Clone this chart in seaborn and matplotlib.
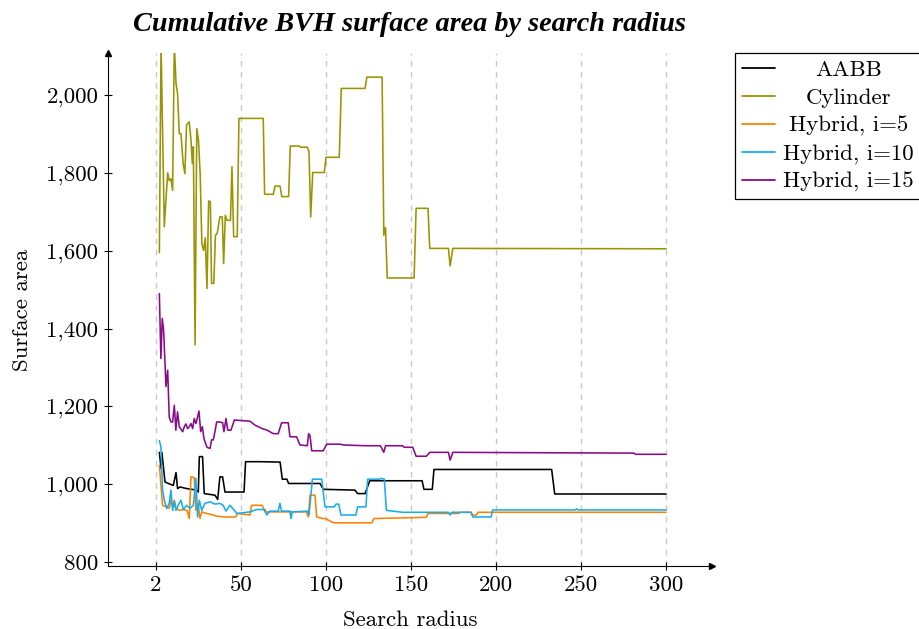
import numpy as np
import pandas as pd
import matplotlib
matplotlib.use("Agg")
import matplotlib.pyplot as plt
import seaborn as sns
from matplotlib.transforms import Affine2D

# Series names and line colours
series_names = ["AABB", "Cylinder", "Hybrid, i=5", "Hybrid, i=10", "Hybrid, i=15"]
series_colors = ["#000000", "#999400", "#ff8000", "#19aeea", "#8a0a8a"]

# (search radius, cumulative surface area) samples per bounding-volume type
aabb = [(2, 1082), (3, 1040), (3.5, 1082), (5.3, 1006), (7.3, 1002), (10.2, 997),
        (11.8, 1030), (12.7, 989), (14.1, 993), (18, 989), (21, 987), (23.9, 985),
        (24.9, 980), (25.5, 1071), (27.4, 1071), (28.4, 976), (34.7, 972), (36.3, 961),
        (37.6, 1019), (39.2, 1019), (40.6, 980), (51.8, 980), (52.7, 1058), (61.2, 1058),
        (73, 1057), (74.3, 1013), (77, 1013), (78, 1002), (96.5, 1002), (98.4, 987),
        (117, 985), (118.6, 976), (123, 976), (125.7, 1009), (156.5, 1009), (157.6, 987),
        (162.5, 987), (163.5, 1038), (232.7, 1038), (234.5, 975), (300, 975)]

cylinder = [(2, 1595), (3, 2130), (4.9, 1662), (6.9, 1800), (7.8, 1780), (8.8, 1785),
            (9.8, 1755), (10.8, 2130), (11.8, 2030), (12.7, 2004), (13.7, 1901), (14.7, 1901),
            (16, 1824), (17, 1798), (18, 1923), (19.6, 1931), (20.6, 1884), (21.4, 1824),
            (22, 1867), (23, 1358), (24, 1914), (25, 1884), (26, 1798), (27, 1618),
            (28, 1601), (29, 1633), (30, 1503), (31, 1728), (32, 1726), (32.7, 1516),
            (34, 1516), (35, 1640), (36, 1644), (37.6, 1687), (39, 1687), (39.8, 1567),
            (40.8, 1691), (41.8, 1678), (43.8, 1678), (44.7, 1816), (45.7, 1636), (47.8, 1636),
            (48.8, 1940), (63.1, 1940), (63.9, 1745), (69, 1745), (70, 1766), (73, 1766),
            (74, 1739), (78, 1739), (79, 1869), (84.3, 1869), (85, 1866), (89, 1866),
            (90, 1855), (91, 1687), (92.2, 1801), (99, 1801), (100, 1840), (107.8, 1840),
            (109, 2017), (123, 2017), (124, 2046), (133, 2046), (134, 1640), (135, 1660),
            (136, 1530), (151.8, 1530), (153, 1709), (160, 1709), (161, 1606), (172, 1606),
            (173, 1561), (174.6, 1606), (300, 1605)]

hybrid_5 = [(2, 1049), (3.9, 946), (5.9, 942), (7.8, 938), (8.8, 959), (9.8, 942),
            (10.8, 959), (11.8, 938), (13.7, 933), (16.1, 935), (18.4, 932), (19.6, 912),
            (20.6, 1019), (22.5, 1017), (23.5, 933), (24.7, 950), (25.9, 912), (26.9, 929),
            (29.8, 925), (33.7, 921), (35.7, 918), (40.6, 916), (47, 916), (47.8, 925),
            (55.3, 921), (56.3, 946), (62.5, 946), (64, 929), (88.5, 929), (89.6, 916),
            (90.6, 972), (93.5, 972), (94.5, 916), (98, 912), (99.6, 912), (104.5, 901),
            (127, 901), (128.2, 912), (159, 915), (160, 925), (178, 925), (179, 928),
            (185.3, 928), (186.3, 921), (188.5, 921), (189.3, 928), (300, 928)]

hybrid_10 = [(2, 1112), (2.9, 1097), (3.9, 985), (4.9, 959), (6.3, 938), (7.8, 951),
             (8.8, 985), (9.8, 933), (10.8, 955), (11.8, 933), (13.1, 946), (14.7, 959),
             (16.1, 935), (18, 946), (20, 938), (22, 946), (23.5, 1015), (24.5, 916),
             (25.5, 959), (26.9, 933), (28.8, 951), (31.8, 955), (34.7, 949), (37.6, 951),
             (39.5, 946), (41.2, 931), (43.5, 946), (46.5, 931), (47.5, 925), (55.3, 929),
             (59.2, 935), (64.1, 935), (65.1, 921), (67, 931), (71.9, 931), (72.9, 951),
             (73.9, 931), (78.8, 931), (79.4, 912), (80.2, 929), (89, 931), (90, 921),
             (92, 1013), (97.5, 1013), (99.4, 942), (104.9, 942), (105.9, 949), (107.5, 949),
             (108.8, 921), (117.6, 921), (118.6, 942), (123.5, 942), (124.5, 1013),
             (131.4, 1013), (132.4, 1015), (134.3, 1013), (135.5, 933), (145, 928),
             (172, 928), (173, 921), (174, 928), (185.3, 928), (186.3, 916), (197.1, 916),
             (198, 934), (246.7, 934), (247.3, 937), (248, 934), (300, 934)]

hybrid_15 = [(2, 1490), (2.9, 1323), (3.7, 1426), (4.5, 1396), (5.9, 1251), (6.9, 1293),
             (7.8, 1173), (8.8, 1160), (9.8, 1160), (10.8, 1203), (11.7, 1139), (12.7, 1186),
             (13.7, 1148), (15.7, 1135), (16.7, 1148), (17.6, 1155), (18.6, 1143), (19.6, 1148),
             (20.6, 1156), (21.6, 1143), (22.5, 1169), (23.5, 1156), (24.5, 1173), (25.3, 1188),
             (26.3, 1135), (27.3, 1148), (28.2, 1118), (29.2, 1105), (30, 1095), (31.8, 1092),
             (32.7, 1114), (33.7, 1114), (34.7, 1135), (35.7, 1160), (37.6, 1160), (39.2, 1158),
             (40, 1135), (41.2, 1169), (42.2, 1139), (44.1, 1139), (46.1, 1165), (55.3, 1162),
             (58.2, 1152), (62.5, 1143), (65.4, 1139), (69, 1130), (71.9, 1130), (73.9, 1158),
             (77.8, 1158), (78.8, 1122), (82.7, 1122), (84.7, 1101), (89, 1099), (89.8, 1130),
             (90.6, 1125), (91.6, 1086), (98.4, 1086), (100.4, 1103), (108.6, 1103),
             (110, 1101), (123, 1099), (132, 1099), (134, 1082), (135, 1099), (145, 1099),
             (146, 1095), (151, 1095), (153, 1072), (159, 1072), (161, 1082), (172, 1082),
             (173, 1062), (174.6, 1082), (281, 1080), (282, 1077), (300, 1077)]

x_ticks = [0, 50, 100, 150, 200, 250, 300]
x_tick_labels = ["2", "50", "100", "150", "200", "250", "300"]
y_ticks = [800, 1000, 1200, 1400, 1600, 1800, 2000]
y_tick_labels = ["800", "1,000", "1,200", "1,400", "1,600", "1,800", "2,000"]

sns.set_theme(style="white")
plt.rcParams["font.family"] = ["cmr10", "DejaVu Serif"]
plt.rcParams["axes.formatter.use_mathtext"] = True
plt.rcParams["axes.unicode_minus"] = False
for key in ["text.color", "axes.labelcolor", "xtick.color", "ytick.color"]:
    plt.rcParams[key] = "black"

frames = []
for name, pts in zip(series_names, [aabb, cylinder, hybrid_5, hybrid_10, hybrid_15]):
    arr = np.asarray(pts, dtype=float)
    frames.append(pd.DataFrame({"radius": arr[:, 0], "area": arr[:, 1], "series": name}))
df = pd.concat(frames, ignore_index=True)

W, H = 920, 629
fig = plt.figure(figsize=(W / 100, H / 100), dpi=100)
ax = fig.add_axes([108 / W, 1 - 566 / H, (712 - 108) / W, (566 - 53) / H])

sns.lineplot(data=df, x="radius", y="area", hue="series", hue_order=series_names,
             palette=dict(zip(series_names, series_colors)), estimator=None,
             sort=False, linewidth=1.15, ax=ax)

ax.set_xlim(-28.2, 327)
ax.set_ylim(790, 2108)
ax.set_xticks(x_ticks)
ax.set_xticklabels(x_tick_labels)
ax.set_yticks(y_ticks)
ax.set_yticklabels(y_tick_labels)

fs = 16.5
ax.tick_params(axis="both", direction="inout", length=6, width=0.8, color="black",
               labelcolor="black", labelsize=fs, pad=4, bottom=True, left=True)
ax.xaxis.grid(True, linestyle=(0, (4, 4)), color="#c8c8c8", linewidth=1.0)
ax.yaxis.grid(False)
ax.set_axisbelow(True)

for side in ["top", "right"]:
    ax.spines[side].set_visible(False)
for side in ["left", "bottom"]:
    ax.spines[side].set_color("black")
    ax.spines[side].set_linewidth(0.8)

# arrow tips at the ends of both axes
ax.plot(1, 0, marker=">", color="black", markersize=4.5, transform=ax.transAxes, clip_on=False)
ax.plot(0, 1, marker="^", color="black", markersize=4.5, transform=ax.transAxes, clip_on=False)

ax.set_xlabel("Search radius", fontsize=fs, labelpad=11)
ax.set_ylabel("Surface area", fontsize=fs, labelpad=10)
ax.set_title("Cumulative BVH surface area by search radius",
             fontsize=20.3, fontweight="bold", fontstyle="italic", color="black",
             family=["Liberation Serif"], pad=16)

handles, labels = ax.get_legend_handles_labels()
ax.get_legend().remove()
leg = fig.legend(handles, labels, loc="upper left",
                 bbox_to_anchor=(735 / W, 1 - 53 / H), bbox_transform=fig.transFigure,
                 frameon=True, fancybox=False, edgecolor="black", framealpha=1,
                 fontsize=fs, handlelength=1.45, handletextpad=0.35,
                 borderpad=0.3, labelspacing=0.34, borderaxespad=0)
leg.get_frame().set_linewidth(0.9)
for line in leg.get_lines():
    line.set_linewidth(1.3)

# centre each legend label within the text column
renderer = fig.canvas.get_renderer()
widths = [t.get_window_extent(renderer).width for t in leg.get_texts()]
wmax = max(widths)
for t, w in zip(leg.get_texts(), widths):
    t.set_transform(t.get_transform() + Affine2D().translate((wmax - w) / 2, 0))

fig.savefig("out.png", dpi=100)
